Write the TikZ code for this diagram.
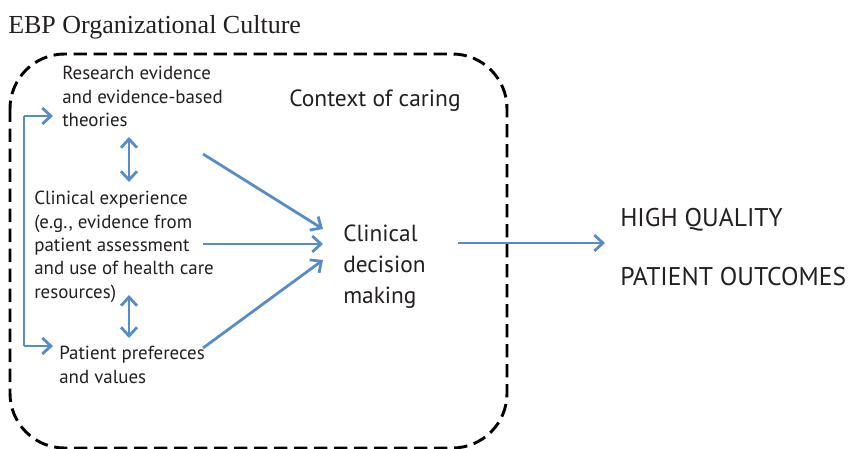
\documentclass[tikz,border=0pt]{standalone}
\usepackage{fontspec}
\setmainfont{Liberation Serif}
\newfontfamily\bodyfont{PT Sans}
\usetikzlibrary{arrows.meta}
\definecolor{arrowblue}{RGB}{88,140,200}
\definecolor{inkgrey}{RGB}{35,31,32}
\tikzset{
  bluearrow/.style={draw=arrowblue, line width=2.1pt, -{Straight Barb[length=6.5pt,width=12pt]}},
  bluedouble/.style={draw=arrowblue, line width=2.1pt, {Straight Barb[length=6.5pt,width=12pt]}-{Straight Barb[length=6.5pt,width=12pt]}},
  blueline/.style={draw=arrowblue, line width=2.1pt},
  dashbox/.style={draw=black, line width=2.2pt, dash pattern=on 10pt off 5pt, rounded corners=41pt},
  smalltext/.style={font=\bodyfont\fontsize{14.2}{17.5}\selectfont, align=left, inner sep=0pt, text=inkgrey},
}
\begin{document}
\begin{tikzpicture}[x=0.75pt,y=-0.75pt]
\useasboundingbox (0,0) rectangle (853,449);
% title
\node[anchor=base west, inner sep=0pt, font=\fontsize{19.5}{23}\selectfont, text=inkgrey] (title) at (8,34) {EBP Organizational Culture};
% dashed context box
\draw[dashbox] (10,54) rectangle (507,448);
% texts
\node[smalltext, anchor=north west] (research) at (62,66) {Research evidence\\and evidence-based\\theories};
\node[smalltext, anchor=north west] (clinexp) at (34,191) {Clinical experience\\(e.g., evidence from\\patient assessment\\and use of health care\\resources)};
\node[smalltext, anchor=north west] (patient) at (59,346) {Patient prefereces\\and values};
\node[anchor=base west, inner sep=0pt, font=\bodyfont\fontsize{17.6}{21}\selectfont, text=inkgrey] (context) at (289,107) {Context of caring};
\node[anchor=north west, inner sep=0pt, align=left, font=\bodyfont\fontsize{17.5}{23}\selectfont, text=inkgrey] (decision) at (343,225) {Clinical\\decision\\making};
\node[anchor=base west, inner sep=0pt, font=\bodyfont\fontsize{19.2}{25}\selectfont, text=inkgrey] (high) at (620,226) {HIGH QUALITY};
\node[anchor=base west, inner sep=0pt, font=\bodyfont\fontsize{19.2}{25}\selectfont, text=inkgrey] (outcomes) at (620,285) {PATIENT OUTCOMES};
% connector points
\coordinate (brtop) at (24,116);
\coordinate (brbot) at (24,346);
\coordinate (restip) at (53,116);
\coordinate (pattip) at (53,346);
\coordinate (d1a) at (129,137);
\coordinate (d1b) at (129,182);
\coordinate (d2a) at (129,295);
\coordinate (d2b) at (129,338);
\coordinate (a1s) at (203,154);
\coordinate (a1e) at (323,229);
\coordinate (a2s) at (203,244);
\coordinate (a2e) at (323,244);
\coordinate (a3s) at (203,348);
\coordinate (a3e) at (323,260);
\coordinate (outs) at (458,243);
\coordinate (oute) at (605,243);
% bracket
\draw[blueline] (brtop) -- (brbot);
\draw[bluearrow] (brtop) -- (restip);
\draw[bluearrow] (brbot) -- (pattip);
% double arrows
\draw[bluedouble] (d1a) -- (d1b);
\draw[bluedouble] (d2a) -- (d2b);
% into decision
\draw[bluearrow] (a1s) -- (a1e);
\draw[bluearrow] (a2s) -- (a2e);
\draw[bluearrow] (a3s) -- (a3e);
% outcome
\draw[bluearrow] (outs) -- (oute);
\end{tikzpicture}
\end{document}
